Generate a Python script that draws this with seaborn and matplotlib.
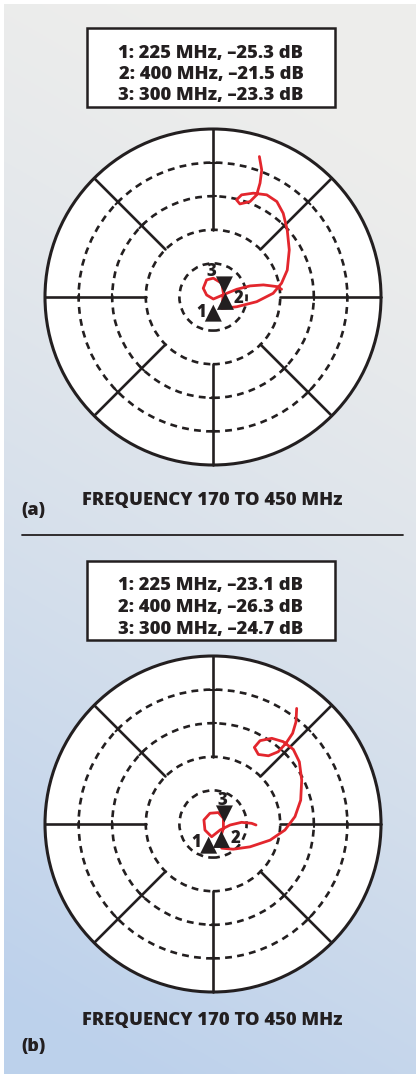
import matplotlib
matplotlib.use("Agg")
import matplotlib.pyplot as plt
from matplotlib.patches import Circle, Rectangle
import numpy as np
import seaborn as sns

sns.set_theme(style="white")
plt.rcParams["font.family"] = ["Open Sans", "DejaVu Sans"]

W, H = 416, 1074
INK = "#231f20"
RED = "#e3262d"

# chart data, in grid units (outer ring radius = 5)
a_legend = ["1: 225 MHz, \u201325.3 dB", "2: 400 MHz, \u201321.5 dB", "3: 300 MHz, \u201323.3 dB"]
a_curve_x = [1.38, 1.45, 1.40, 1.30, 1.10, 0.80, 0.70, 0.85, 1.20, 1.60, 1.90, 2.09, 2.21, 2.27,
             2.21, 2.04, 1.79, 1.30, 0.71, 0.26, 0.31, 0.26, 0.01, -0.19, -0.29, -0.19, 0.01,
             0.41, 0.71, 1.10, 1.50, 1.90, 2.04]
a_curve_y = [4.18, 3.78, 3.39, 3.04, 2.84, 2.77, 2.89, 3.04, 3.09, 3.04, 2.84, 2.49, 1.99, 1.40,
             0.80, 0.41, 0.11, -0.14, -0.29, -0.34, 0.11, 0.41, 0.56, 0.51, 0.26, 0.06, -0.06,
             0.11, 0.23, 0.33, 0.36, 0.31, 0.23]
a_marker_x = [0.01, 0.37, 0.34]
a_marker_y = [-0.48, -0.13, 0.36]

b_legend = ["1: 225 MHz, \u201323.1 dB", "2: 400 MHz, \u201326.3 dB", "3: 300 MHz, \u201324.7 dB"]
b_curve_x = [2.49, 2.47, 2.37, 2.17, 1.94, 1.65, 1.35, 1.23, 1.40, 1.75, 2.09, 2.39, 2.57, 2.64,
             2.61, 2.44, 2.14, 1.70, 1.10, 0.60, 0.26, 0.21, 0.31, 0.31, 0.16, -0.09, -0.27,
             -0.24, -0.04, 0.21, 0.51, 0.85, 1.15, 1.28]
b_curve_y = [3.44, 3.04, 2.70, 2.40, 2.15, 2.03, 2.07, 2.28, 2.48, 2.55, 2.45, 2.22, 1.85, 1.31,
             0.71, 0.22, -0.18, -0.48, -0.68, -0.75, -0.72, -0.43, -0.13, 0.17, 0.34, 0.32, 0.12,
             -0.18, -0.38, -0.18, -0.03, 0.05, 0.02, -0.03]
b_marker_x = [-0.13, 0.25, 0.34]
b_marker_y = [-0.63, -0.46, 0.30]

marker_names = ["1", "2", "3"]
dashed_rings = [1, 2, 3, 4]
spoke_angles = [0, 45, 90, 135, 180, 225, 270, 315]
title_text = "FREQUENCY 170 TO 450 MHz"

fig = plt.figure(figsize=(W / 100, H / 100), dpi=100)
fig.patch.set_facecolor("white")

# background: page coordinates in pixels
bg = fig.add_axes([0, 0, 1, 1])
bg.set_xlim(0, W)
bg.set_ylim(H, 0)
bg.axis("off")
gx, gy = np.meshgrid(np.linspace(0, 1, 200), np.linspace(0, 1, 500))
t = np.clip(gy * 1.0 + (1 - gx) * 0.22 - 0.15, 0, 1) ** 1.25
c0 = np.array([0.93, 0.93, 0.925])
c1 = np.array([0.74, 0.82, 0.925])
grad = c0[None, None, :] * (1 - t[..., None]) + c1[None, None, :] * t[..., None]
bg.imshow(grad, extent=[4, W, H, 4], aspect="auto", zorder=0)


def draw_panel(legend, cx, cy, xs, ys, mx, my, label_off, box_top, title_y, tag, tag_y):
    # legend box
    bg.add_patch(Rectangle((87, box_top), 248, 79, facecolor="white", edgecolor=INK, lw=1.8, zorder=2))
    for i, line in enumerate(legend):
        bg.text(211, box_top + 25 + i * 21.5, line, ha="center", va="center", fontsize=13.2,
                fontweight=800, color=INK, zorder=3)
    bg.text(212, title_y, title_text, ha="center", va="center", fontsize=13.2,
            fontweight=800, color=INK, zorder=3)
    bg.text(21, tag_y, tag, ha="left", va="center", fontsize=13, fontweight=800,
            color=INK, zorder=3)

    # chart axes, 33.6 px per grid unit
    half = 5.15
    size = half * 2 * 33.6
    ax = fig.add_axes([(cx - size / 2) / W, (H - cy - size / 2) / H, size / W, size / H])
    ax.set_xlim(-half, half)
    ax.set_ylim(-half, half)
    ax.set_aspect("equal")
    ax.axis("off")
    ax.add_patch(Circle((0, 0), 5, facecolor="white", edgecolor=INK, lw=2.2, zorder=1))
    for r in dashed_rings:
        ax.add_patch(Circle((0, 0), r, facecolor="none", edgecolor=INK, lw=1.9,
                            linestyle=(0, (2.6, 2.0)), zorder=2))
    for ang in spoke_angles:
        th = np.deg2rad(ang)
        ux, uy = np.cos(th), np.sin(th)
        ax.plot([2 * ux, 5 * ux], [2 * uy, 5 * uy], color=INK, lw=1.9, zorder=2)
        for r in (3, 4):
            ax.plot([r * ux - 0.1 * uy, r * ux + 0.1 * uy], [r * uy + 0.1 * ux, r * uy - 0.1 * ux],
                    color=INK, lw=1.5, zorder=2)

    sns.lineplot(x=xs, y=ys, sort=False, estimator=None, color=RED, linewidth=2.0, ax=ax, zorder=4)
    sns.scatterplot(x=mx[:2], y=my[:2], marker="^", s=150, color=INK, edgecolor="none", ax=ax, zorder=5)
    sns.scatterplot(x=mx[2:], y=my[2:], marker="v", s=150, color=INK, edgecolor="none", ax=ax, zorder=5)
    for name, x, y, (dx, dy) in zip(marker_names, mx, my, label_off):
        ax.text(x + dx, y + dy, name, ha="center", va="center", fontsize=12, fontweight=800,
                color=INK, zorder=6)


draw_panel(a_legend, 213, 297, a_curve_x, a_curve_y, a_marker_x, a_marker_y,
           [(-0.36, 0.03), (0.40, 0.10), (-0.40, 0.40)], 28, 500, "(a)", 511)
bg.plot([22, 403], [535, 535], color=INK, lw=1.3, zorder=2)
draw_panel(b_legend, 213, 824, b_curve_x, b_curve_y, b_marker_x, b_marker_y,
           [(-0.36, 0.09), (0.42, 0.04), (-0.07, 0.40)], 561, 1021, "(b)", 1047)

fig.savefig("out.png", dpi=100)
